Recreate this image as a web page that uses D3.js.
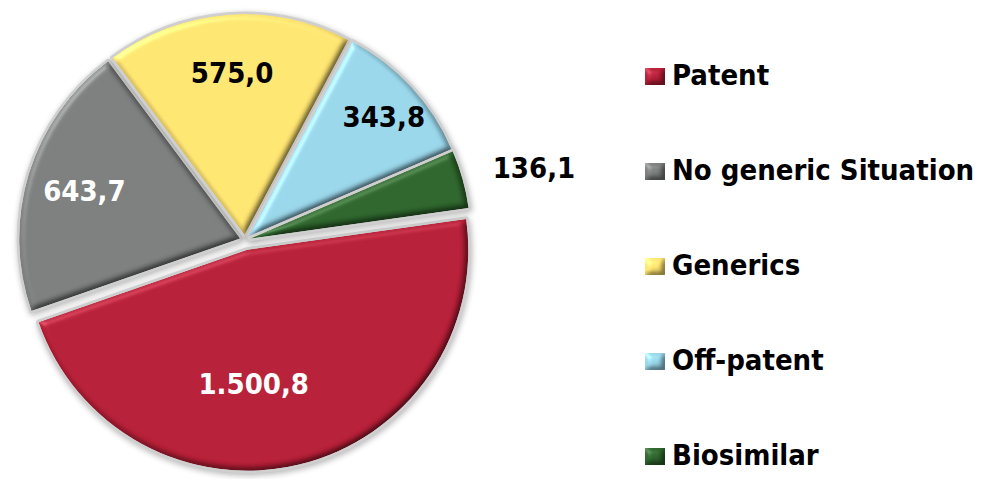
<!DOCTYPE html>
<html>
<head>
<meta charset="utf-8">
<script src="https://cdn.jsdelivr.net/npm/d3@7"></script>
<style>
  body { margin: 0; background: #fff; }
  svg text { font-family: "DejaVu Sans Condensed", "DejaVu Sans", sans-serif; font-stretch: condensed; font-weight: bold; }
  filter { color-interpolation-filters: sRGB; }
</style>
</head>
<body>
<svg id="chart" width="981" height="479"></svg>
<script>
// data
const categories = ["Patent", "No generic Situation", "Generics", "Off-patent", "Biosimilar"];
const values = [1500.8, 643.7, 575.0, 343.8, 136.1];
const valueLabels = ["1.500,8", "643,7", "575,0", "343,8", "136,1"];
const colors = ["#b31d35", "#7a7c7c", "#fde26f", "#97d3e7", "#2c632b"];
const textColors = ["#fff", "#fff", "#000", "#000", "#000"];

// layout
const cx = 245, cy = 240, radius = 221;
const explode = [10, 5, 5, 5, 5];
const labelRadius = [148, 168, 170, 186, 298];
const labelShift = [[-26, 0], [0, 0], [0, 2], [2, 3], [2, 8]];

const svg = d3.select('#chart');
const defs = svg.append('defs');

// bevel look
const bevel = defs.append('filter').attr('id', 'bevel')
    .attr('color-interpolation-filters', 'sRGB')
    .attr('x', '-10%').attr('y', '-10%').attr('width', '120%').attr('height', '120%');
bevel.append('feGaussianBlur').attr('in', 'SourceAlpha').attr('stdDeviation', 3).attr('result', 'blur');
bevel.append('feDiffuseLighting').attr('in', 'blur').attr('surfaceScale', 3)
    .attr('diffuseConstant', 1.155).attr('lighting-color', '#fff').attr('result', 'diff')
    .append('feDistantLight').attr('azimuth', 225).attr('elevation', 60);
bevel.append('feSpecularLighting').attr('in', 'blur').attr('surfaceScale', 3)
    .attr('specularConstant', 0.4).attr('specularExponent', 25).attr('lighting-color', '#fff').attr('result', 'spec')
    .append('feDistantLight').attr('azimuth', 225).attr('elevation', 40);
bevel.append('feComposite').attr('in', 'spec').attr('in2', 'SourceAlpha').attr('operator', 'in').attr('result', 'specIn');
bevel.append('feComposite').attr('in', 'SourceGraphic').attr('in2', 'diff').attr('operator', 'arithmetic')
    .attr('k1', 1).attr('k2', 0).attr('k3', 0).attr('k4', 0).attr('result', 'lit');
bevel.append('feComposite').attr('in', 'lit').attr('in2', 'specIn').attr('operator', 'arithmetic')
    .attr('k1', 0).attr('k2', 1).attr('k3', 0.5).attr('k4', 0).attr('result', 'all');
bevel.append('feComposite').attr('in', 'all').attr('in2', 'SourceAlpha').attr('operator', 'in');

const shadow = defs.append('filter').attr('id', 'shadow')
    .attr('color-interpolation-filters', 'sRGB')
    .attr('x', '-10%').attr('y', '-10%').attr('width', '120%').attr('height', '120%');
shadow.append('feGaussianBlur').attr('in', 'SourceAlpha').attr('stdDeviation', 3).attr('result', 'b');
shadow.append('feOffset').attr('in', 'b').attr('dx', 1).attr('dy', 2).attr('result', 'o');
shadow.append('feComponentTransfer').attr('in', 'o').attr('result', 's')
    .append('feFuncA').attr('type', 'linear').attr('slope', 0.3);
const m = shadow.append('feMerge');
m.append('feMergeNode').attr('in', 's');
m.append('feMergeNode').attr('in', 'SourceGraphic');

const pie = d3.pie().sort(null).startAngle(82 * Math.PI / 180).endAngle(82 * Math.PI / 180 + 2 * Math.PI);
const arcs = pie(values);
const arc = d3.arc().innerRadius(0).outerRadius(radius);

const midAngle = d => (d.startAngle + d.endAngle) / 2;
const offset = (d, i) => [Math.sin(midAngle(d)) * explode[i], -Math.cos(midAngle(d)) * explode[i]];

const g = svg.append('g').attr('transform', `translate(${cx},${cy})`);

const slices = g.selectAll('g.slice').data(arcs).join('g')
    .attr('class', 'slice')
    .attr('transform', (d, i) => `translate(${offset(d, i)})`)
    .attr('filter', 'url(#shadow)');

slices.append('path')
    .attr('d', arc)
    .attr('fill', '#cfcfcf')
    .attr('stroke', '#cfcfcf')
    .attr('stroke-width', 5)
    .attr('stroke-linejoin', 'round');

slices.append('path')
    .attr('d', arc)
    .attr('fill', (d, i) => colors[i])
    .attr('filter', 'url(#bevel)');

g.selectAll('text.val').data(arcs).join('text')
    .attr('class', 'val')
    .attr('x', (d, i) => Math.sin(midAngle(d)) * labelRadius[i] + labelShift[i][0])
    .attr('y', (d, i) => -Math.cos(midAngle(d)) * labelRadius[i] + labelShift[i][1])
    .attr('text-anchor', 'middle')
    .attr('dy', '0.36em')
    .attr('font-size', 29)
    .attr('fill', (d, i) => textColors[i])
    .text((d, i) => valueLabels[i]);

// legend
const legend = svg.append('g').attr('transform', 'translate(645,85)');
const rows = legend.selectAll('g').data(categories).join('g')
    .attr('transform', (d, i) => `translate(0,${i * 95})`);
rows.append('rect')
    .attr('x', 0).attr('y', -17).attr('width', 20).attr('height', 17)
    .attr('fill', (d, i) => colors[i])
    .attr('filter', 'url(#bevel)');
rows.append('text')
    .attr('x', 27).attr('y', 0)
    .attr('font-size', 29)
    .attr('fill', '#000')
    .text(d => d);
</script>
</body>
</html>
